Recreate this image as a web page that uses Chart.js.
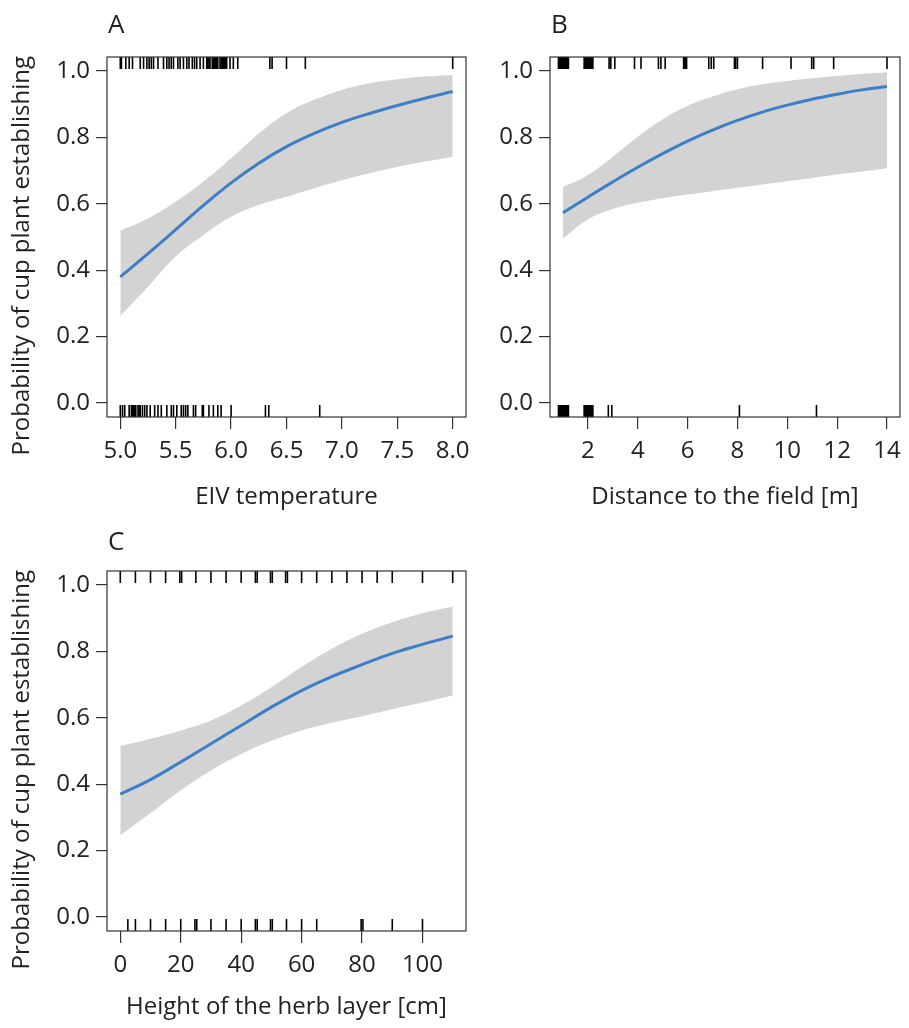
<!DOCTYPE html>
<html><head><meta charset="utf-8">
<script src="https://cdn.jsdelivr.net/npm/chart.js@4"></script>
<style>
html,body{margin:0;padding:0;background:#fff;}
body{width:909px;height:1028px;position:relative;overflow:hidden;}
canvas{position:absolute;}
</style></head><body>
<canvas id="cA" width="480" height="520" style="left:0;top:0"></canvas>
<canvas id="cB" width="429" height="520" style="left:480px;top:0"></canvas>
<canvas id="cC" width="480" height="508" style="left:0;top:520px"></canvas>
<script>
// ---------- data ----------
const yTicks = [0.0, 0.2, 0.4, 0.6, 0.8, 1.0];

const A_x     = [5.0, 5.25, 5.5, 5.75, 6.0, 6.25, 6.5, 6.75, 7.0, 7.25, 7.5, 7.75, 8.0];
const A_fit   = [0.380, 0.450, 0.522, 0.595, 0.663, 0.722, 0.772, 0.812, 0.845, 0.872, 0.896, 0.918, 0.938];
const A_upper = [0.519, 0.556, 0.606, 0.667, 0.737, 0.812, 0.873, 0.913, 0.943, 0.963, 0.975, 0.983, 0.988];
const A_lower = [0.262, 0.350, 0.441, 0.506, 0.561, 0.596, 0.621, 0.647, 0.671, 0.692, 0.711, 0.727, 0.742];
const A_rugTop = [5.00,5.01,5.05,5.08,5.11,5.18,5.21,5.24,5.26,5.28,5.30,5.34,5.39,5.42,5.44,5.46,5.48,5.52,5.54,5.57,5.60,5.62,5.65,5.67,5.69,5.72,5.75,5.78,5.79,5.80,5.81,5.83,5.84,5.85,5.86,5.87,5.88,5.90,5.91,5.92,5.93,5.94,5.95,5.96,5.99,6.02,6.06,6.35,6.37,6.50,6.67,8.00];
const A_rugBottom = [5.00,5.02,5.04,5.08,5.10,5.11,5.12,5.13,5.14,5.16,5.17,5.18,5.20,5.22,5.24,5.27,5.31,5.34,5.37,5.42,5.46,5.48,5.51,5.55,5.57,5.59,5.61,5.66,5.68,5.74,5.75,5.80,5.84,5.88,5.91,6.00,6.31,6.34,6.80];
const A_xTicks = [5.0, 5.5, 6.0, 6.5, 7.0, 7.5, 8.0];

const B_x     = [1, 2, 3, 4, 5, 6, 7, 8, 9, 10, 11, 12, 13, 14];
const B_fit   = [0.573, 0.620, 0.666, 0.710, 0.751, 0.789, 0.822, 0.851, 0.876, 0.897, 0.915, 0.930, 0.943, 0.953];
const B_upper = [0.650, 0.687, 0.742, 0.802, 0.854, 0.895, 0.923, 0.945, 0.960, 0.970, 0.978, 0.985, 0.991, 0.995];
const B_lower = [0.496, 0.553, 0.584, 0.603, 0.617, 0.628, 0.638, 0.648, 0.658, 0.668, 0.678, 0.688, 0.697, 0.707];
const B_rugTop = [0.82,0.86,0.90,0.94,0.98,1.02,1.06,1.10,1.14,1.18,1.22,1.85,1.89,1.93,1.97,2.01,2.05,2.09,2.13,2.17,2.20,2.85,2.92,3.08,3.87,4.13,4.83,4.93,5.10,5.84,5.88,5.92,5.96,6.85,6.95,7.05,7.88,7.93,8.00,9.01,10.15,10.98,11.06,11.86,14.00];
const B_rugBottom = [0.82,0.86,0.90,0.94,0.98,1.02,1.06,1.10,1.14,1.18,1.22,1.85,1.89,1.93,1.97,2.01,2.05,2.09,2.13,2.17,2.20,2.82,2.96,8.08,11.17];
const B_xTicks = [2, 4, 6, 8, 10, 12, 14];

const C_x     = [0, 10, 20, 30, 40, 50, 60, 70, 80, 90, 100, 110];
const C_fit   = [0.370, 0.414, 0.467, 0.522, 0.577, 0.632, 0.682, 0.724, 0.760, 0.794, 0.821, 0.846];
const C_upper = [0.515, 0.537, 0.562, 0.592, 0.637, 0.692, 0.753, 0.808, 0.853, 0.888, 0.915, 0.935];
const C_lower = [0.246, 0.313, 0.381, 0.441, 0.491, 0.531, 0.562, 0.585, 0.605, 0.626, 0.646, 0.667];
const C_rugTop = [0,5,10,15,19.7,20.3,25,30,35,40,44.7,45.3,49.7,50.3,54.7,55.3,60,65,70,75,80,85,90,100,110];
const C_rugBottom = [2.5,5,10,15,20,24.7,25.3,30,35,40,44.7,45.3,49.7,50.3,55,60,65,79.7,80.3,90,100];
const C_xTicks = [0, 20, 40, 60, 80, 100];

const yTitle = 'Probability of cup plant establishing';
const xTitleA = 'EIV temperature';
const xTitleB = 'Distance to the field [m]';
const xTitleC = 'Height of the herb layer [cm]';

// ---------- styles ----------
const FONT = '"Open Sans", "Noto Sans", sans-serif';
const FS = 24;
const INK = '#222222';
const LINE_BLUE = '#3d7ec8';
const BAND = '#d3d3d3';
const RUG_TOP_Y = 1.024, RUG_BOT_Y = -0.024;
const Y_TITLE_SHIFT = '      '; // trailing space moves the vertical title's visible text down

const boxPlugin = {
  id: 'boxAndLetter',
  afterDraw(chart, args, opts) {
    const {ctx, chartArea: a} = chart;
    ctx.save();
    ctx.strokeStyle = '#333';
    ctx.lineWidth = 1.2;
    ctx.strokeRect(a.left, a.top, a.right - a.left, a.bottom - a.top);
    if (opts.letter) {
      ctx.fillStyle = INK;
      ctx.font = '26px ' + FONT;
      ctx.textAlign = 'left';
      ctx.textBaseline = 'alphabetic';
      ctx.fillText(opts.letter, a.left + 1, opts.letterY);
    }
    ctx.restore();
  }
};

function pts(xs, ys) { return xs.map((x, i) => ({x: x, y: ys[i]})); }
function rug(xs, y) { return xs.map(x => ({x: x, y: y})); }

function makeChart(id, cfg) {
  const ds = [
    {type: 'line', data: pts(cfg.x, cfg.fit), borderColor: LINE_BLUE, borderWidth: 3,
     pointRadius: 0, tension: 0.4, fill: false},
    {type: 'scatter', data: rug(cfg.rugTop, RUG_TOP_Y), pointStyle: 'line', rotation: 90,
     pointRadius: 6, borderColor: '#000', borderWidth: 1.6, backgroundColor: '#000'},
    {type: 'scatter', data: rug(cfg.rugBottom, RUG_BOT_Y), pointStyle: 'line', rotation: 90,
     pointRadius: 6, borderColor: '#000', borderWidth: 1.6, backgroundColor: '#000'},
    {type: 'line', data: pts(cfg.x, cfg.upper), borderWidth: 0, borderColor: 'rgba(0,0,0,0)',
     pointRadius: 0, tension: 0.4, fill: '+1', backgroundColor: BAND},
    {type: 'line', data: pts(cfg.x, cfg.lower), borderWidth: 0, borderColor: 'rgba(0,0,0,0)',
     pointRadius: 0, tension: 0.4, fill: false}
  ];
  return new Chart(document.getElementById(id), {
    type: 'line',
    data: {datasets: ds},
    plugins: [boxPlugin],
    options: {
      responsive: false, animation: false, devicePixelRatio: 1,
      layout: {padding: cfg.padding},
      plugins: {legend: {display: false}, tooltip: {enabled: false},
        boxAndLetter: {letter: cfg.letter, letterY: cfg.letterY}},
      scales: {
        x: {
          type: 'linear', min: cfg.xMin, max: cfg.xMax,
          afterBuildTicks: s => { s.ticks = cfg.xTicks.map(v => ({value: v})); },
          afterFit: s => { s.height = cfg.xScaleH; },
          grid: {drawOnChartArea: false, drawTicks: true, tickLength: 12, color: '#333', lineWidth: 1.2},
          border: {display: false},
          ticks: {autoSkip: false, maxRotation: 0, padding: 8, color: INK,
            font: {family: FONT, size: FS},
            callback: cfg.xFmt},
          title: {display: true, text: cfg.xTitle, color: INK, font: {family: FONT, size: FS},
            padding: {top: 4, bottom: cfg.xTitlePad}}
        },
        y: {
          type: 'linear', min: -0.042, max: 1.042,
          afterBuildTicks: s => { s.ticks = yTicks.map(v => ({value: v})); },
          afterFit: s => { s.width = cfg.yScaleW; },
          grid: {drawOnChartArea: false, drawTicks: true, tickLength: 11, color: '#333', lineWidth: 1.2},
          border: {display: false},
          ticks: {autoSkip: false, padding: 6, color: INK, font: {family: FONT, size: FS},
            callback: v => Number(v).toFixed(1)},
          title: {display: !!cfg.yTitle, text: cfg.yTitle ? cfg.yTitle + Y_TITLE_SHIFT : '', color: INK,
            font: {family: FONT, size: FS}, padding: {top: 8, bottom: 4}}
        }
      }
    }
  });
}

makeChart('cA', {
  x: A_x, fit: A_fit, upper: A_upper, lower: A_lower, rugTop: A_rugTop, rugBottom: A_rugBottom,
  xTicks: A_xTicks, xMin: 4.88, xMax: 8.12, xFmt: v => Number(v).toFixed(1),
  xTitle: xTitleA, yTitle: yTitle, letter: 'A', letterY: 33,
  padding: {left: 0, top: 57, right: 14, bottom: 0}, yScaleW: 107, xScaleH: 103, xTitlePad: 8
});
makeChart('cB', {
  x: B_x, fit: B_fit, upper: B_upper, lower: B_lower, rugTop: B_rugTop, rugBottom: B_rugBottom,
  xTicks: B_xTicks, xMin: 0.48, xMax: 14.52, xFmt: v => String(v),
  xTitle: xTitleB, yTitle: null, letter: 'B', letterY: 33,
  padding: {left: 0, top: 57, right: 1, bottom: 0}, yScaleW: 70, xScaleH: 103, xTitlePad: 8
});
makeChart('cC', {
  x: C_x, fit: C_fit, upper: C_upper, lower: C_lower, rugTop: C_rugTop, rugBottom: C_rugBottom,
  xTicks: C_xTicks, xMin: -4.4, xMax: 114.4, xFmt: v => String(v),
  xTitle: xTitleC, yTitle: yTitle, letter: 'C', letterY: 30,
  padding: {left: 0, top: 51, right: 14, bottom: 0}, yScaleW: 107, xScaleH: 97, xTitlePad: 6
});
</script>
</body></html>
